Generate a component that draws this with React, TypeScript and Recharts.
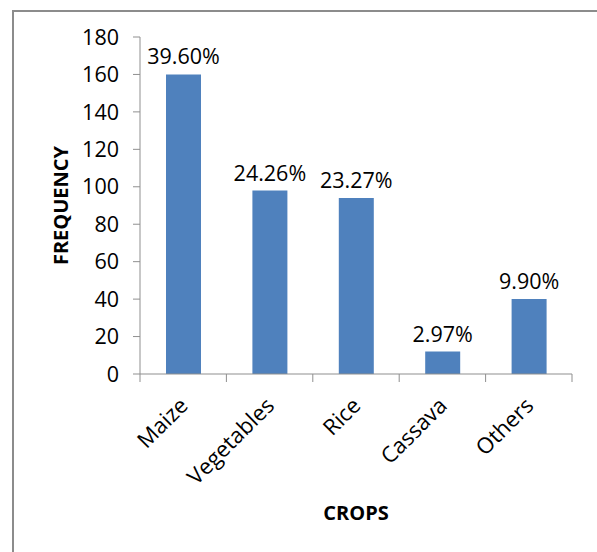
import React from 'react';
import { BarChart, Bar, XAxis, YAxis, LabelList } from 'recharts';

const crops = ['Maize', 'Vegetables', 'Rice', 'Cassava', 'Others'];
const frequency = [160, 98, 94, 12, 40];
const shares = ['39.60%', '24.26%', '23.27%', '2.97%', '9.90%'];
const yTicks = [0, 20, 40, 60, 80, 100, 120, 140, 160, 180];

const data = crops.map((crop, i) => ({ crop, frequency: frequency[i], share: shares[i] }));

const WIDTH = 597;
const HEIGHT = 552;
const PLOT_LEFT = 140;
const PLOT_RIGHT = 572;
const BAND = (PLOT_RIGHT - PLOT_LEFT) / crops.length;
const AXIS = '#8f8f8f';
const BAR = '#4f81bd';
const FONT = '"Open Sans", "Noto Sans", sans-serif';

// category ticks: marks sit on the band edges, labels turned 45 degrees
const CropTick = (props: any) => {
  const { x, y, payload } = props;
  const index = props.index ?? payload.index;
  const half = BAND / 2;
  const tx = x + 6;
  const ty = y + 33;
  return (
    <g>
      <line x1={x - half} y1={y} x2={x - half} y2={y + 8} stroke={AXIS} />
      {index === crops.length - 1 && (
        <line x1={x + half} y1={y} x2={x + half} y2={y + 8} stroke={AXIS} />
      )}
      <text
        x={tx}
        y={ty}
        textAnchor="end"
        fill="#000"
        fontSize={22}
        fontFamily={FONT}
        transform={`rotate(-45, ${tx}, ${ty})`}
      >
        {payload.value}
      </text>
    </g>
  );
};

export default function App() {
  return (
    <div style={{ position: 'absolute', left: 0, top: 0, width: WIDTH, height: HEIGHT, background: '#fff', fontFamily: FONT }}>
      {/* frame, only top and left edges show in the crop */}
      <div
        style={{
          position: 'absolute',
          left: 12,
          top: 10,
          width: WIDTH - 12,
          height: HEIGHT - 10,
          borderTop: '2px solid #8c8c8c',
          borderLeft: '2px solid #8c8c8c',
          boxSizing: 'border-box',
        }}
      />
      <div style={{ position: 'absolute', left: 0, top: 0 }}>
        <BarChart
          width={WIDTH}
          height={HEIGHT}
          data={data}
          margin={{ top: 37, right: WIDTH - PLOT_RIGHT, bottom: 28, left: 50 }}
        >
          <XAxis
            dataKey="crop"
            height={150}
            axisLine={{ stroke: AXIS }}
            tickLine={false}
            tickSize={0}
            tickMargin={0}
            interval={0}
            tick={<CropTick />}
            label={{
              value: 'CROPS',
              position: 'insideBottom',
              offset: 4,
              fill: '#000',
              fontSize: 20,
              fontWeight: 'bold',
            }}
          />
          <YAxis
            width={90}
            domain={[0, 180]}
            ticks={yTicks}
            interval={0}
            axisLine={{ stroke: AXIS }}
            tickLine={{ stroke: AXIS }}
            tickSize={7}
            tickMargin={14}
            tick={{ fill: '#000', fontSize: 21.5 }}
            label={{
              value: 'FREQUENCY',
              angle: -90,
              position: 'insideLeft',
              offset: 11,
              fill: '#000',
              fontSize: 20,
              fontWeight: 'bold',
              style: { textAnchor: 'middle' },
            }}
          />
          <Bar dataKey="frequency" fill={BAR} barSize={35} isAnimationActive={false}>
            <LabelList dataKey="share" position="top" offset={10} fill="#000" fontSize={21.5} />
          </Bar>
        </BarChart>
      </div>
    </div>
  );
}
